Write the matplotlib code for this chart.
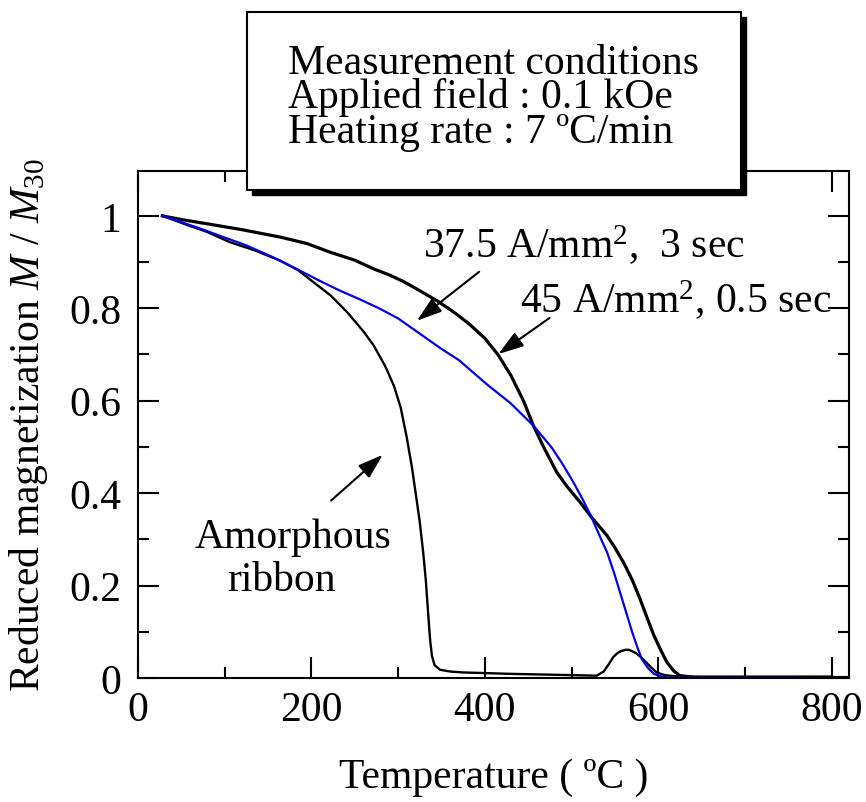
import matplotlib
matplotlib.use("Agg")
import matplotlib.pyplot as plt
from matplotlib.patches import Rectangle

plt.rcParams['font.family'] = ['Liberation Serif', 'DejaVu Serif']
plt.rcParams['mathtext.fontset'] = 'custom'
plt.rcParams['mathtext.rm'] = 'Liberation Serif'
plt.rcParams['mathtext.it'] = 'Liberation Serif:italic'

# values
amor_T = [28, 60, 80, 106, 135, 164, 185, 202, 222, 241, 260, 272, 285, 295,
          303, 310, 316, 321, 325, 329, 332, 335, 337, 339, 342, 348, 360,
          375, 429, 480, 529, 537, 543, 548, 553, 557, 562, 566, 570, 575,
          580, 585, 590, 598, 608, 617, 650, 818]
amor_M = [1.0, 0.978, 0.965, 0.943, 0.925, 0.903, 0.882, 0.857, 0.828, 0.792,
          0.75, 0.719, 0.675, 0.633, 0.585, 0.52, 0.455, 0.39, 0.337, 0.27,
          0.21, 0.13, 0.08, 0.048, 0.028, 0.018, 0.014, 0.012, 0.009, 0.007,
          0.005, 0.014, 0.03, 0.045, 0.054, 0.058, 0.061, 0.061, 0.058, 0.053,
          0.045, 0.036, 0.026, 0.012, 0.006, 0.004, 0.002, 0.002]

blue_T = [28, 68, 100, 125, 155, 183, 210, 233, 255, 279, 300, 325, 350,
          370, 402, 430, 456, 477, 490, 502, 513, 523, 533, 541, 549, 556,
          563, 570, 576, 581, 588, 595, 602, 610, 800]
blue_M = [1.0, 0.975, 0.953, 0.936, 0.911, 0.885, 0.859, 0.838, 0.82, 0.799,
          0.778, 0.745, 0.712, 0.688, 0.636, 0.594, 0.546, 0.499, 0.462,
          0.424, 0.386, 0.348, 0.305, 0.272, 0.228, 0.185, 0.142, 0.099,
          0.066, 0.041, 0.022, 0.009, 0.004, 0.001, 0.0]

k45_T = [28, 50, 79, 120, 164, 195, 222, 250, 272, 290, 306, 325, 345, 364,
         382, 400, 415, 430, 445, 456, 468, 483, 495, 510, 523, 541, 550,
         560, 570, 579, 587, 595, 603, 610, 618, 625, 640, 800]
k45_M = [1.0, 0.992, 0.983, 0.97, 0.954, 0.94, 0.921, 0.904, 0.885, 0.872,
         0.858, 0.838, 0.816, 0.792, 0.766, 0.735, 0.70, 0.655, 0.598, 0.546,
         0.499, 0.445, 0.414, 0.38, 0.348, 0.308, 0.282, 0.25, 0.212, 0.171,
         0.131, 0.092, 0.06, 0.034, 0.015, 0.005, 0.002, 0.002]

box_lines = ["Measurement conditions",
             "Applied field : 0.1 kOe",
             "Heating rate : 7 \u00baC/min"]

FS = 30

fig = plt.figure(figsize=(8.66, 8.03), dpi=100)
ax = fig.add_axes([138/866, 1-679/803, 711/866, 507/803])

ax.plot(amor_T, amor_M, color='black', lw=1.7)
ax.plot(k45_T, k45_M, color='black', lw=2.3)
ax.plot(blue_T, blue_M, color='#0000ee', lw=1.6)

ax.set_xlim(0, 820)
ax.set_ylim(0, 1.097)
ax.set_xticks([0, 200, 400, 600, 800])
ax.set_xticks([100, 300, 500, 700], minor=True)
ax.set_yticks([0, 0.2, 0.4, 0.6, 0.8, 1])
ax.set_yticklabels(['0', '0.2', '0.4', '0.6', '0.8', '1'])
ax.set_yticks([0.1, 0.3, 0.5, 0.7, 0.9], minor=True)
ax.tick_params(which='both', direction='in', top=True, right=True,
               width=1.5, labelsize=FS)
ax.tick_params(which='major', length=15)
ax.tick_params(which='minor', length=8)
ax.tick_params(axis='x', pad=9)
ax.tick_params(axis='y', pad=12)
for s in ax.spines.values():
    s.set_linewidth(1.5)

ax.set_xlabel("Temperature ( \u00baC )", fontsize=FS)
ax.xaxis.set_label_coords(0.5, -0.156)
ax.set_ylabel("Reduced magnetization $M$ / $M_{30}$", fontsize=FS)
ax.yaxis.set_label_coords(-0.124, 0.5)

# labels and arrows
ax.text(328.8, 0.911, "37.5 A/mm$^2$,  3 sec", fontsize=FS, va='baseline')
ax.text(440.8, 0.7915, "45 A/mm$^2$, 0.5 sec", fontsize=FS, va='baseline')
ax.text(65.8, 0.283, "Amorphous", fontsize=FS, va='baseline')
ax.text(102.3, 0.191, "ribbon", fontsize=FS, va='baseline')

arrow = dict(arrowstyle='-|>,head_length=0.55,head_width=0.18',
             mutation_scale=28, lw=1.5, color='black', shrinkA=0, shrinkB=0)
ax.annotate('', xy=(321.6, 0.773), xytext=(393.5, 0.879), arrowprops=arrow)
ax.annotate('', xy=(415.7, 0.701), xytext=(474.6, 0.779), arrowprops=arrow)
ax.annotate('', xy=(282.3, 0.483), xytext=(222.7, 0.384), arrowprops=arrow)

# conditions box with drop shadow
bx, by, bw, bh = 247/866, 1-191/803, 494/866, 178/803
fig.patches.append(Rectangle((bx + 5/866, by - 5/803), bw, bh,
                             transform=fig.transFigure, facecolor='black',
                             edgecolor='black', zorder=5))
fig.patches.append(Rectangle((bx, by), bw, bh, transform=fig.transFigure,
                             facecolor='white', edgecolor='black', lw=1.5,
                             zorder=6))
fig.text(288/866, 1 - 44/803, "\n".join(box_lines), fontsize=FS,
         va='top', linespacing=0.86, zorder=7)

fig.savefig("out.png", dpi=100)
